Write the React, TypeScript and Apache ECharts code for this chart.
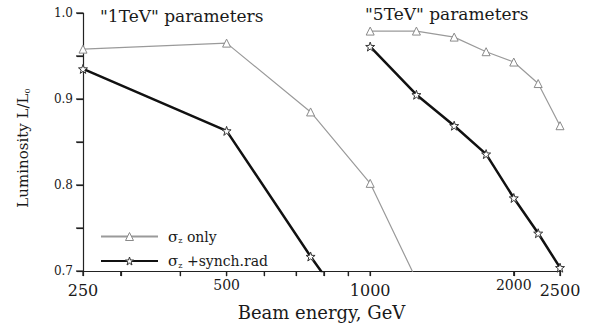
import React, { useEffect, useRef } from "react";
import * as echarts from "echarts";

const energy1Sigma = [250, 500, 750, 1000, 1250];
const lum1Sigma = [0.958, 0.965, 0.885, 0.802, 0.69];
const energy1Synch = [250, 500, 750, 1000];
const lum1Synch = [0.935, 0.863, 0.717, 0.62];
const energy5 = [1000, 1250, 1500, 1750, 2000, 2250, 2500];
const lum5Sigma = [0.979, 0.979, 0.972, 0.955, 0.943, 0.918, 0.869];
const lum5Synch = [0.961, 0.905, 0.869, 0.836, 0.785, 0.744, 0.704];

const xLabelValues = [250, 500, 1000, 2000, 2500];
const xTickValues = [250, 300, 400, 500, 600, 700, 800, 900, 1000, 2000, 2500];
const yTickValues = [0.7, 0.75, 0.8, 0.85, 0.9, 0.95, 1.0];

const NAME_SIGMA = "sigma";
const NAME_SYNCH = "synch";

const STAR =
  "path://M0,-10 L2.35,-3.24 L9.51,-3.09 L3.8,1.24 L5.88,8.09 L0,4 L-5.88,8.09 L-3.8,1.24 L-9.51,-3.09 L-2.35,-3.24 Z";

const FONT = "'DejaVu Serif', 'Liberation Serif', serif";
const INK = "#1a1a1a";
const X_MIN = 250;
const Y_MIN = 0.7;

function pairs(xs: number[], ys: number[]) {
  return xs.map((x, i) => [x, ys[i]]);
}

export default function App() {
  const ref = useRef<HTMLDivElement>(null);
  useEffect(() => {
    document.body.style.margin = "0";
    const chart = echarts.init(ref.current!, null, { renderer: "svg" });
    const grayItem = { color: "#ffffff", borderColor: "#8a8a8a", borderWidth: 1 };
    const darkItem = { color: "#ffffff", borderColor: "#333333", borderWidth: 1 };
    const graySeries = (data: number[][]) => ({
      type: "line",
      name: NAME_SIGMA,
      data,
      symbol: "triangle",
      symbolSize: 8,
      lineStyle: { color: "#9a9a9a", width: 1.2 },
      itemStyle: grayItem,
      clip: true,
      z: 2,
    });
    const darkSeries = (data: number[][]) => ({
      type: "line",
      name: NAME_SYNCH,
      data,
      symbol: STAR,
      symbolSize: 9,
      lineStyle: { color: "#111111", width: 2.5 },
      itemStyle: darkItem,
      clip: true,
      z: 3,
    });
    const tickSeries = (name: string, data: number[][], dx: number, dy: number) => ({
      type: "custom",
      name,
      data,
      silent: true,
      clip: false,
      z: 5,
      renderItem: (_p: any, api: any) => {
        const pt = api.coord([api.value(0), api.value(1)]);
        return {
          type: "line",
          shape: { x1: pt[0], y1: pt[1], x2: pt[0] + dx, y2: pt[1] + dy },
          style: { stroke: "#222", lineWidth: 1.3 },
        };
      },
    });
    chart.setOption({
      animation: false,
      backgroundColor: "#ffffff",
      textStyle: { fontFamily: FONT },
      grid: { left: 83, right: 37, top: 13, bottom: 53 },
      legend: {
        orient: "vertical",
        left: 95,
        top: 224,
        itemWidth: 57,
        itemHeight: 10,
        itemGap: 9,
        data: [
          { name: NAME_SIGMA, itemStyle: grayItem },
          { name: NAME_SYNCH, itemStyle: { color: "#ffffff", borderColor: "#333", borderWidth: 1 } },
        ],
        formatter: (n: string) =>
          n === NAME_SIGMA ? "{s|σ}{sub|z}{t| only}" : "{s|σ}{sub|z}{t| +synch.rad}",
        textStyle: {
          fontFamily: FONT,
          padding: [0, 0, 0, 5],
          rich: {
            s: { fontSize: 15, fontFamily: FONT, color: INK },
            sub: { fontSize: 8, fontFamily: FONT, verticalAlign: "bottom", padding: [8, 0, 0, 0], color: INK },
            t: { fontSize: 14, fontFamily: FONT, color: INK },
          },
        },
      },
      xAxis: {
        type: "log",
        logBase: 10,
        min: X_MIN,
        max: 2500,
        name: "Beam energy, GeV",
        nameLocation: "middle",
        nameGap: 30,
        nameTextStyle: { fontFamily: FONT, fontSize: 18, color: INK },
        axisLine: { show: true, lineStyle: { color: "#222", width: 1.2 } },
        axisTick: { show: true, length: 5, customValues: xTickValues, lineStyle: { color: "#222", width: 1.2 } },
        axisLabel: {
          customValues: xLabelValues,
          margin: 7,
          fontFamily: FONT,
          color: INK,
          formatter: (v: number) =>
            v === 500 || v === 2000 ? `{m|${v}}` : `{b|${v}}`,
          rich: {
            m: { fontSize: 14, fontFamily: FONT, color: INK },
            b: { fontSize: 16, fontFamily: FONT, color: INK, padding: [4, 0, 0, 0] },
          },
        },
        splitLine: { show: false },
        minorTick: { show: false },
      },
      yAxis: {
        type: "value",
        min: Y_MIN,
        max: 1.0,
        interval: 0.05,
        name: "{a|Luminosity L/L}{b|0}",
        nameLocation: "middle",
        nameGap: 52,
        nameRotate: 90,
        nameTextStyle: {
          padding: [0, 12, 0, 0],
          rich: {
            a: { fontSize: 15, fontFamily: FONT, color: INK },
            b: { fontSize: 8, fontFamily: FONT, color: INK, verticalAlign: "bottom", padding: [8, 0, 0, 0] },
          },
        },
        axisLine: { show: true, lineStyle: { color: "#222", width: 1.2 } },
        axisTick: { show: true, length: 6, lineStyle: { color: "#222", width: 1.2 } },
        axisLabel: {
          margin: 10,
          fontFamily: FONT,
          fontSize: 12,
          color: INK,
          formatter: (v: number) => (Math.round(v * 100) % 10 === 0 ? v.toFixed(1) : ""),
        },
        splitLine: { show: false },
      },
      graphic: [
        {
          type: "text",
          left: 100,
          top: 7,
          style: { text: '"1TeV" parameters', font: `17px ${FONT}`, fill: INK },
        },
        {
          type: "text",
          left: 365,
          top: 5,
          style: { text: '"5TeV" parameters', font: `17px ${FONT}`, fill: INK },
        },
      ],
      series: [
        graySeries(pairs(energy1Sigma, lum1Sigma)),
        darkSeries(pairs(energy1Synch, lum1Synch)),
        graySeries(pairs(energy5, lum5Sigma)),
        darkSeries(pairs(energy5, lum5Synch)),
        tickSeries("xticks", xTickValues.map((v) => [v, Y_MIN]), 0, 5),
        tickSeries("yticks", yTickValues.map((v) => [X_MIN, v]), -7, 0),
      ],
    });
    return () => chart.dispose();
  }, []);
  return <div ref={ref} style={{ width: 597, height: 326 }} />;
}
